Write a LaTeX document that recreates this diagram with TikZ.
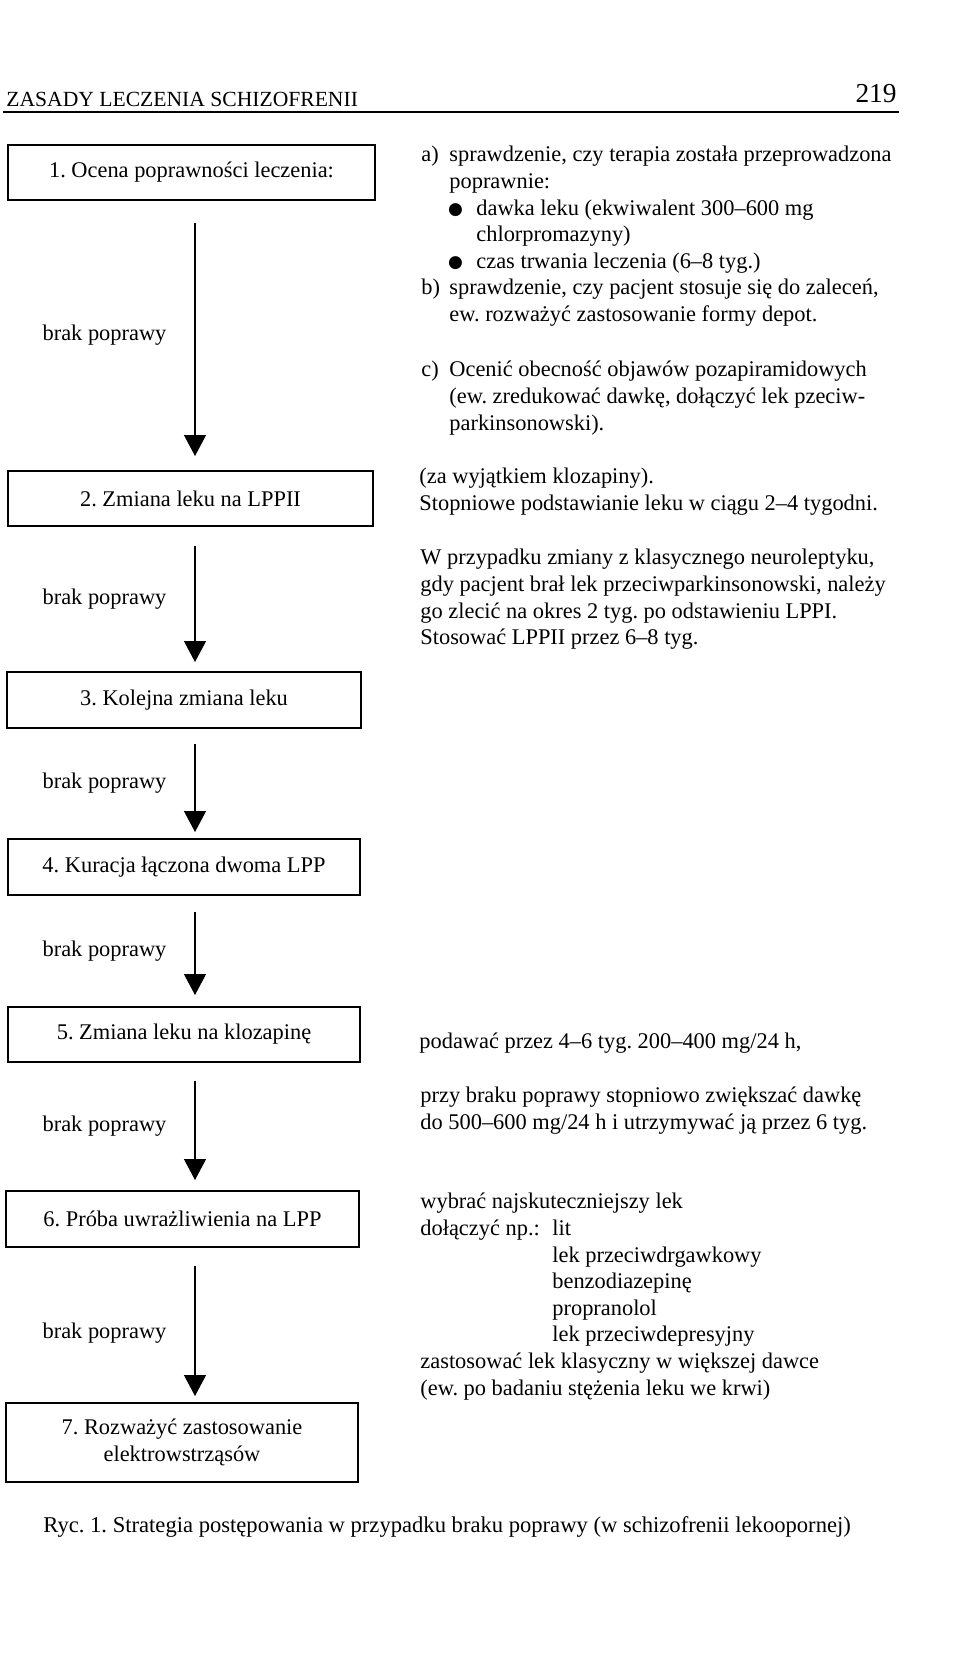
\documentclass[tikz,border=0pt]{standalone}
\usepackage{fontspec}
\setmainfont{Liberation Serif}
\newfontfamily\symf{DejaVu Sans}
\usetikzlibrary{arrows.meta}
\frenchspacing
\newcommand{\bul}{\makebox[13.5pt][l]{\hspace{-0.6pt}\raisebox{0.2pt}{\fontsize{8.5}{8.5}\symf ●}}}
\begin{document}
\begin{tikzpicture}[x=0.5pt,y=-0.5pt,
  every node/.style={font=\fontsize{11.2}{13.3}\selectfont, inner sep=0pt},
  box/.style={draw, line width=1pt, align=center},
  flow/.style={line width=0.6pt, -{Triangle[width=11pt,length=10.5pt]}},
  lbl/.style={left=14pt},
  txt/.style={anchor=north west, align=left}]
\useasboundingbox[fill=white] (0,0) rectangle (960,1661);

% header
\node[anchor=west, font=\fontsize{10.8}{12}\selectfont] (hdr) at (6,99) {ZASADY LECZENIA SCHIZOFRENII};
\node[anchor=east, font=\fontsize{13.7}{15}\selectfont] (pg) at (897,94) {219};
\coordinate (rl) at (3,112);
\coordinate (rr) at (899,112);
\draw[line width=0.8pt] (rl) -- (rr);

% boxes
\node[box, minimum width=183.5pt, minimum height=27.5pt] (b1) at (191.5,172.5) {1. Ocena poprawności leczenia:};
\node[box, minimum width=182.5pt, minimum height=27.5pt] (b2) at (190.5,498.5) {2. Zmiana leku na LPPII};
\node[box, minimum width=177pt, minimum height=28pt] (b3) at (184,700) {3. Kolejna zmiana leku};
\node[box, minimum width=176pt, minimum height=28pt] (b4) at (184,867) {4. Kuracja łączona dwoma LPP};
\node[box, minimum width=176pt, minimum height=27.5pt] (b5) at (184,1034.5) {5. Zmiana leku na klozapinę};
\node[box, minimum width=176.5pt, minimum height=28pt] (b6) at (182.5,1219) {6. Próba uwrażliwienia na LPP};
\node[box, minimum width=176pt, minimum height=39.5pt] (b7) at (182,1442.5) {7. Rozważyć zastosowanie\\elektrowstrząsów};

% arrows
\coordinate (ax) at (195,0);
\draw[flow, shorten <=11pt, shorten >=7pt] (b1.south -| ax) -- (b2.north -| ax) node[lbl, midway] (l1) {brak poprawy};
\draw[flow, shorten <=9.5pt, shorten >=4.5pt] (b2.south -| ax) -- (b3.north -| ax) node[lbl, midway] (l2) {brak poprawy};
\draw[flow, shorten <=7.5pt, shorten >=3pt] (b3.south -| ax) -- (b4.north -| ax) node[lbl, midway] (l3) {brak poprawy};
\draw[flow, shorten <=8pt, shorten >=5.5pt] (b4.south -| ax) -- (b5.north -| ax) node[lbl, midway] (l4) {brak poprawy};
\draw[flow, shorten <=9pt, shorten >=5pt] (b5.south -| ax) -- (b6.north -| ax) node[lbl, midway] (l5) {brak poprawy};
\draw[flow, shorten <=9pt, shorten >=3pt] (b6.south -| ax) -- (b7.north -| ax) node[lbl, pos=0.55] (l6) {brak poprawy};

% right-hand texts
\node[txt] (tab) at (421,146) {\makebox[14pt][l]{a)}sprawdzenie, czy terapia została przeprowadzona\\
\hspace*{14pt}poprawnie:\\
\hspace*{14pt}\bul dawka leku (ekwiwalent 300–600 mg\\
\hspace*{27.5pt}chlorpromazyny)\\
\hspace*{14pt}\bul czas trwania leczenia (6–8 tyg.)\\
\makebox[14pt][l]{b)}sprawdzenie, czy pacjent stosuje się do zaleceń,\\
\hspace*{14pt}ew. rozważyć zastosowanie formy depot.};

\node[txt] (tc) at (421,361) {\makebox[14pt][l]{c)}Ocenić obecność objawów pozapiramidowych\\
\hspace*{14pt}(ew. zredukować dawkę, dołączyć lek pzeciw-\\
\hspace*{14pt}parkinsonowski).};

\node[txt] (tz) at (419,468) {(za wyjątkiem klozapiny).\\
Stopniowe podstawianie leku w ciągu 2–4 tygodni.};

\node[txt] (tw) at (420,549) {W przypadku zmiany z klasycznego neuroleptyku,\\
gdy pacjent brał lek przeciwparkinsonowski, należy\\
go zlecić na okres 2 tyg. po odstawieniu LPPI.\\
Stosować LPPII przez 6–8 tyg.};

\node[txt] (tp) at (419,1033) {podawać przez 4–6 tyg. 200–400 mg/24 h,};

\node[txt] (tq) at (420,1087) {przy braku poprawy stopniowo zwiększać dawkę\\
do 500–600 mg/24 h i utrzymywać ją przez 6 tyg.};

\node[txt] (tv) at (420,1193) {wybrać najskuteczniejszy lek\\
\makebox[66pt][l]{dołączyć np.:}lit\\
\hspace*{66pt}lek przeciwdrgawkowy\\
\hspace*{66pt}benzodiazepinę\\
\hspace*{66pt}propranolol\\
\hspace*{66pt}lek przeciwdepresyjny\\
zastosować lek klasyczny w większej dawce\\
(ew. po badaniu stężenia leku we krwi)};

% caption
\node[anchor=west, font=\fontsize{11.3}{13.3}\selectfont] (cap) at (43,1527) {Ryc. 1. Strategia postępowania w przypadku braku poprawy (w schizofrenii lekoopornej)};
\end{tikzpicture}
\end{document}
